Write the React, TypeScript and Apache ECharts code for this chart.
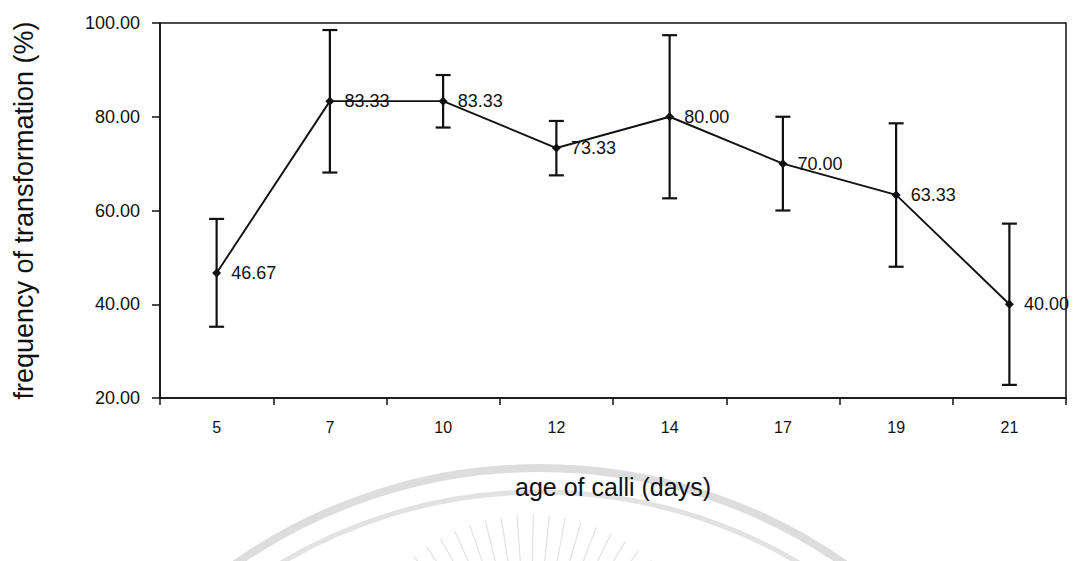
import React, { useEffect, useRef } from "react";
import * as echarts from "echarts";

const categories = ["5", "7", "10", "12", "14", "17", "19", "21"];
const meanValues = [46.67, 83.33, 83.33, 73.33, 80.0, 70.0, 63.33, 40.0];
const upperValues = [58.2, 98.5, 88.9, 79.1, 97.4, 80.0, 78.6, 57.2];
const lowerValues = [35.2, 68.1, 77.7, 67.5, 62.6, 60.0, 48.0, 22.8];
const yTickValues = [20, 40, 60, 80, 100];

const FONT = "'Liberation Sans', Arial, Helvetica, sans-serif";
const INK = "#111111";

export default function App() {
  const ref = useRef<HTMLDivElement>(null);

  useEffect(() => {
    if (!ref.current) return;
    const chart = echarts.init(ref.current, null, { renderer: "svg" });

    const errorData = categories.map((_, i) => [i, lowerValues[i], upperValues[i]]);

    // faint watermark (background logo)
    const rays: any[] = [];
    for (let a = 196; a <= 344; a += 5) {
      const rad = (a * Math.PI) / 180;
      const cx = 530;
      const cy = 700;
      rays.push({
        type: "line",
        z: -10,
        silent: true,
        shape: {
          x1: cx + Math.cos(rad) * 105,
          y1: cy + Math.sin(rad) * 105,
          x2: cx + Math.cos(rad) * 185,
          y2: cy + Math.sin(rad) * 185,
        },
        style: { stroke: "#e2e2e2", lineWidth: 1.2 },
      });
    }

    chart.setOption({
      animation: false,
      backgroundColor: "#ffffff",
      textStyle: { fontFamily: FONT, color: INK },
      graphic: [
        {
          type: "arc",
          z: -10,
          silent: true,
          shape: { cx: 540, cy: 1000, r: 532, startAngle: Math.PI * 1.1, endAngle: Math.PI * 1.9 },
          style: { stroke: "#dddddd", lineWidth: 8, fill: "none" },
        },
        {
          type: "arc",
          z: -10,
          silent: true,
          shape: { cx: 540, cy: 1000, r: 508, startAngle: Math.PI * 1.1, endAngle: Math.PI * 1.9 },
          style: { stroke: "#e2e2e2", lineWidth: 5, fill: "none" },
        },
        ...rays,
      ],
      grid: {
        left: 160,
        top: 23,
        width: 906,
        height: 375,
        show: true,
        borderColor: INK,
        borderWidth: 1.5,
        backgroundColor: "transparent",
      },
      xAxis: {
        type: "category",
        data: categories,
        boundaryGap: true,
        axisLine: { show: true, lineStyle: { color: INK, width: 1.5 } },
        axisTick: { show: true, inside: false, length: 7, lineStyle: { color: INK, width: 1.5 } },
        axisLabel: { color: INK, fontSize: 16, margin: 21, fontFamily: FONT },
        splitLine: { show: false },
        name: "age of calli (days)",
        nameLocation: "middle",
        nameGap: 76,
        nameTextStyle: { fontSize: 25, color: INK, fontFamily: FONT },
      },
      yAxis: {
        type: "value",
        min: 20,
        max: 100,
        interval: 20,
        axisLine: { show: true, lineStyle: { color: INK, width: 1.5 } },
        axisTick: { show: true, inside: false, length: 8, lineStyle: { color: INK, width: 1.5 } },
        axisLabel: {
          color: INK,
          fontSize: 18,
          margin: 20,
          fontFamily: FONT,
          formatter: (v: number) => (yTickValues.includes(v) ? v.toFixed(2) : ""),
        },
        splitLine: { show: false },
        name: "frequency of transformation (%)",
        nameLocation: "middle",
        nameRotate: 90,
        nameGap: 123,
        nameTextStyle: { fontSize: 27, color: INK, fontFamily: FONT },
      },
      series: [
        {
          type: "custom",
          name: "error",
          data: errorData,
          encode: { x: 0, y: [1, 2] },
          z: 3,
          renderItem: (params: any, api: any) => {
            const idx = api.value(0);
            const low = api.coord([idx, api.value(1)]);
            const high = api.coord([idx, api.value(2)]);
            const half = 7.5;
            const style = { stroke: INK, lineWidth: 2.2, fill: "none" };
            return {
              type: "group",
              children: [
                { type: "line", shape: { x1: high[0], y1: high[1], x2: low[0], y2: low[1] }, style },
                { type: "line", shape: { x1: high[0] - half, y1: high[1], x2: high[0] + half, y2: high[1] }, style },
                { type: "line", shape: { x1: low[0] - half, y1: low[1], x2: low[0] + half, y2: low[1] }, style },
              ],
            };
          },
        },
        {
          type: "line",
          name: "mean",
          data: meanValues,
          z: 4,
          symbol: "diamond",
          symbolSize: 9,
          lineStyle: { color: INK, width: 1.9 },
          itemStyle: { color: INK },
          label: {
            show: true,
            position: "right",
            distance: 10,
            color: INK,
            fontSize: 18,
            fontFamily: FONT,
            formatter: (p: any) => Number(p.value).toFixed(2),
          },
        },
      ],
    });

    return () => chart.dispose();
  }, []);

  return (
    <div
      ref={ref}
      style={{ position: "fixed", left: 0, top: 0, width: 1083, height: 561, background: "#fff" }}
    />
  );
}
